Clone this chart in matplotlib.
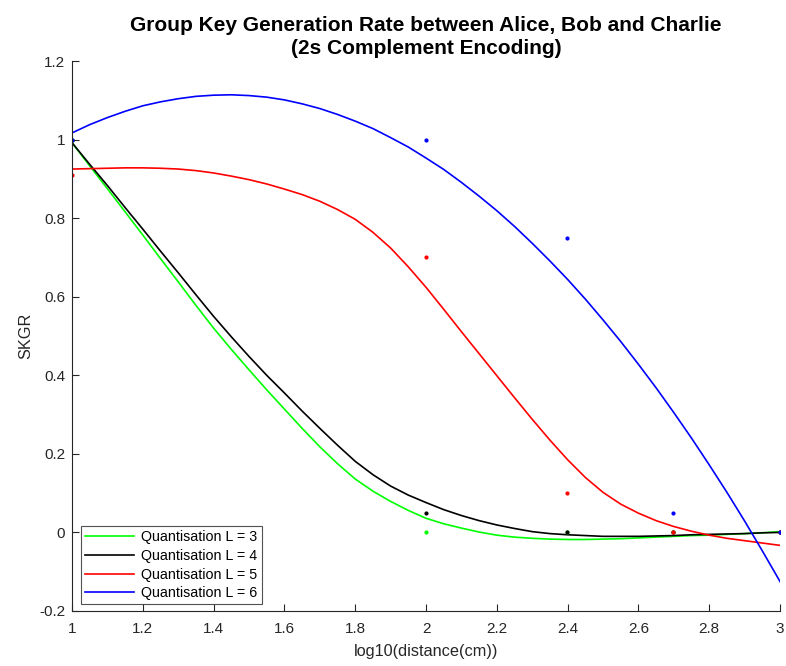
import numpy as np
import matplotlib.pyplot as plt
from matplotlib.ticker import FuncFormatter

plt.rcParams['font.family'] = ['Liberation Sans', 'DejaVu Sans']

# measured points: log10 of 10, 100, 250, 500, 1000 cm
dist_cm = [10, 100, 250, 500, 1000]
pts_L3 = [1.0, 0.0, 0.0, 0.0, 0.0]
pts_L4 = [1.0, 0.05, 0.0, 0.0, 0.0]
pts_L5 = [0.91, 0.70, 0.10, 0.0, 0.0]
pts_L6 = [1.0, 1.0, 0.75, 0.05, 0.0]

# fitted curves at log10(d) = 1.00, 1.05, ..., 3.00
fit_x = np.linspace(1, 3, 41)
fit_L3 = [0.992, 0.933, 0.875, 0.816, 0.757, 0.697, 0.638, 0.578, 0.520, 0.466,
          0.414, 0.363, 0.314, 0.265, 0.218, 0.175, 0.136, 0.105, 0.079, 0.056,
          0.036, 0.022, 0.011, 0.001, -0.007, -0.012, -0.015, -0.017, -0.018, -0.018,
          -0.017, -0.016, -0.014, -0.012, -0.010, -0.008, -0.007, -0.005, -0.003, -0.001,
          0.002]
fit_L4 = [0.992, 0.937, 0.883, 0.827, 0.772, 0.716, 0.661, 0.605, 0.550, 0.498,
          0.448, 0.400, 0.355, 0.309, 0.265, 0.222, 0.181, 0.147, 0.118, 0.095,
          0.076, 0.058, 0.043, 0.030, 0.019, 0.010, 0.002, -0.003, -0.006, -0.008,
          -0.010, -0.010, -0.010, -0.009, -0.008, -0.006, -0.005, -0.004, -0.003, -0.001,
          0.0]
fit_L5 = [0.925, 0.926, 0.927, 0.928, 0.928, 0.927, 0.925, 0.921, 0.915, 0.907,
          0.898, 0.887, 0.874, 0.860, 0.843, 0.822, 0.797, 0.764, 0.724, 0.676,
          0.624, 0.568, 0.511, 0.455, 0.399, 0.343, 0.288, 0.235, 0.185, 0.140,
          0.102, 0.072, 0.049, 0.030, 0.015, 0.003, -0.007, -0.015, -0.021, -0.027,
          -0.033]
fit_L6 = [1.017, 1.038, 1.056, 1.072, 1.086, 1.096, 1.104, 1.110, 1.113, 1.114,
          1.112, 1.108, 1.101, 1.091, 1.079, 1.064, 1.047, 1.028, 1.005, 0.981,
          0.953, 0.924, 0.891, 0.856, 0.819, 0.779, 0.736, 0.691, 0.644, 0.594,
          0.541, 0.486, 0.428, 0.368, 0.305, 0.240, 0.172, 0.102, 0.029, -0.047,
          -0.125]

labels = ['Quantisation L = 3', 'Quantisation L = 4', 'Quantisation L = 5', 'Quantisation L = 6']
colors = [(0, 1, 0), 'black', 'red', 'blue']
axis_col = '#262626'

x_pts = np.log10(dist_cm)

fig = plt.figure(figsize=(7.86, 6.66), dpi=100)
ax = fig.add_axes([0.0916, 0.0826, 0.9008, 0.8258])

for fit, lab, c in zip([fit_L3, fit_L4, fit_L5, fit_L6], labels, colors):
    ax.plot(fit_x, fit, color=c, lw=1.2, label=lab)
for pts, c in zip([pts_L3, pts_L4, pts_L5, pts_L6], colors):
    ax.plot(x_pts, pts, '.', color=c, ms=4)

ax.set_xlim(1, 3)
ax.set_ylim(-0.2, 1.2)
ax.set_xticks(np.arange(1, 3.01, 0.2))
ax.set_yticks(np.arange(-0.2, 1.21, 0.2))
ax.xaxis.set_major_formatter(FuncFormatter(lambda v, p: f'{round(v, 1):g}'))
ax.yaxis.set_major_formatter(FuncFormatter(lambda v, p: f'{round(v, 1):g}'))
ax.tick_params(direction='in', length=5, labelsize=11, colors=axis_col, width=0.8)
ax.tick_params(axis='x', pad=8)
ax.tick_params(axis='y', pad=5)
for s in ['top', 'right']:
    ax.spines[s].set_visible(False)
for s in ['left', 'bottom']:
    ax.spines[s].set_color(axis_col)
    ax.spines[s].set_linewidth(0.8)

ax.set_xlabel('log10(distance(cm))', fontsize=11.7, color=axis_col, labelpad=6)
ax.set_ylabel('SKGR', fontsize=11.7, color=axis_col)
ax.set_title('Group Key Generation Rate between Alice, Bob and Charlie\n(2s Complement Encoding)',
             fontsize=15, fontweight='bold', pad=5, linespacing=1.3)

leg = ax.legend(loc='lower left', bbox_to_anchor=(0.013, 0.012), fontsize=10.3,
                frameon=True, fancybox=False, handlelength=3.4, borderpad=0.3,
                labelspacing=0.32, handletextpad=0.5, borderaxespad=0.0)
leg.get_frame().set_edgecolor(axis_col)
leg.get_frame().set_linewidth(0.8)

plt.savefig('out.png', dpi=100)
